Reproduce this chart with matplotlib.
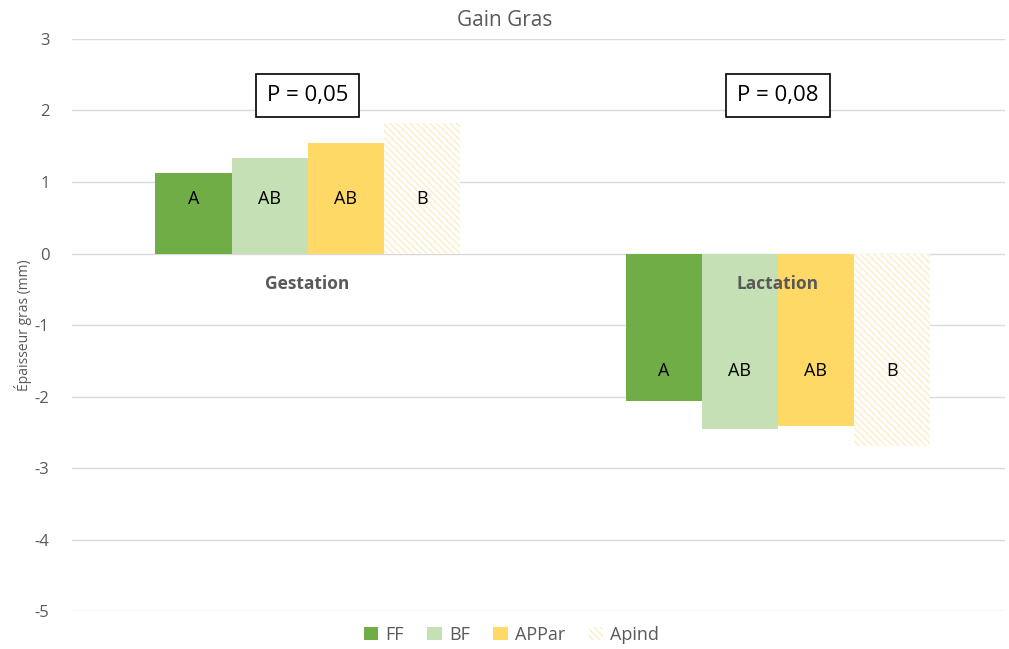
import numpy as np
import matplotlib.pyplot as plt
from matplotlib.patches import Patch

plt.rcParams['font.family'] = ['Open Sans', 'DejaVu Sans']
plt.rcParams['hatch.linewidth'] = 1.0
plt.rcParams['axes.unicode_minus'] = False

# data
periods = ['Gestation', 'Lactation']
groups = ['FF', 'BF', 'APPar', 'Apind']
values = {
    'FF': [1.13, -2.06],
    'BF': [1.33, -2.45],
    'APPar': [1.55, -2.41],
    'Apind': [1.83, -2.69],
}
letters = {
    'FF': ['A', 'A'],
    'BF': ['AB', 'AB'],
    'APPar': ['AB', 'AB'],
    'Apind': ['B', 'B'],
}
p_values = ['P = 0,05', 'P = 0,08']

colors = {'FF': '#70AD47', 'BF': '#C5E0B4', 'APPar': '#FFD966', 'Apind': 'white'}
hatch_col = '#FDEDC6'

fig = plt.figure(figsize=(10.09, 6.49), dpi=100)
ax = fig.add_axes([0.071, 0.058, 0.925, 0.882])

x = np.arange(len(periods))
w = 0.162
letter_y = [0.77, -1.64]
for i, g in enumerate(groups):
    pos = x + (i - 1.5) * w
    if g == 'Apind':
        ax.bar(pos, values[g], w, color='white', edgecolor=hatch_col,
               hatch='\\\\\\\\\\', linewidth=0, zorder=3)
    else:
        ax.bar(pos, values[g], w, color=colors[g], linewidth=0, zorder=3)
    for j in range(len(periods)):
        ax.text(pos[j], letter_y[j], letters[g][j], ha='center', va='center',
                fontsize=13, color='black', zorder=4)

for j, name in enumerate(periods):
    ax.text(x[j], -0.43, name, ha='center', va='center', fontsize=12.5,
            fontweight='bold', color='#595959', zorder=5)
    ax.text(x[j], 2.21, p_values[j], ha='center', va='center', fontsize=16,
            color='black', zorder=5,
            bbox=dict(boxstyle='square,pad=0.5', facecolor='white',
                      edgecolor='black', linewidth=1.2))

ax.set_xlim(-0.502, 1.483)
ax.set_ylim(-5, 3)
ax.set_yticks(range(-5, 4))
ax.set_xticks([])
ax.tick_params(axis='y', length=0, labelsize=12, labelcolor='#595959', pad=16)
ax.grid(axis='y', color='#D9D9D9', linewidth=1, zorder=0)
for s in ax.spines.values():
    s.set_visible(False)

ax.set_ylabel('Épaisseur gras (mm)', fontsize=10, color='#595959', labelpad=2)
fig.text(0.5, 0.968, 'Gain Gras', ha='center', va='center', fontsize=15,
         color='#595959')

handles = [Patch(facecolor=colors['FF']), Patch(facecolor=colors['BF']),
           Patch(facecolor=colors['APPar']),
           Patch(facecolor='white', edgecolor=hatch_col, hatch='\\\\\\\\\\', linewidth=0)]
fig.legend(handles, groups, loc='center', bbox_to_anchor=(0.507, 0.022), ncol=4,
           frameon=False, fontsize=13, handlelength=0.8, handleheight=0.8,
           handletextpad=0.4, columnspacing=1.3, labelcolor='#595959')

fig.savefig('out.png', dpi=100)
